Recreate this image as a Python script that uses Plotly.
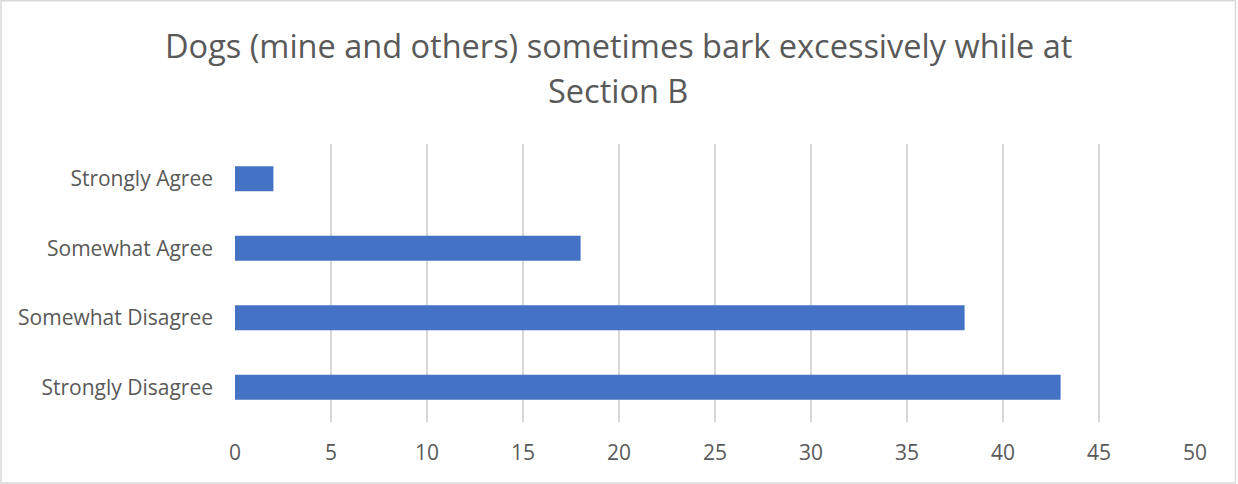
import plotly.graph_objects as go

categories = ["Strongly Agree", "Somewhat Agree", "Somewhat Disagree", "Strongly Disagree"]
values = [2, 18, 38, 43]
x_ticks = [0, 5, 10, 15, 20, 25, 30, 35, 40, 45, 50]
title_lines = ["Dogs (mine and others) sometimes bark excessively while at", "Section B"]

W, H = 1238, 484
ml, mr, mt, mb = 235, 43, 144, 62
pw, ph = W - ml - mr, H - mt - mb


def py(p):
    return (H - mb - p) / ph


def px(p):
    return (p - ml) / pw


fig = go.Figure(go.Bar(
    x=values, y=categories, orientation="h",
    marker=dict(color="#4472C4", line=dict(width=0)),
))

annotations = []
for line, ypix in zip(title_lines, [45, 90]):
    annotations.append(dict(
        text=line, xref="paper", yref="paper", x=px(W / 2 - 1), y=py(ypix),
        xanchor="center", yanchor="middle", showarrow=False,
        font=dict(family="Open Sans", size=32.5, color="#595959"),
    ))

fig.update_layout(
    width=W, height=H,
    margin=dict(l=ml, r=mr, t=mt, b=mb),
    paper_bgcolor="white", plot_bgcolor="white",
    bargap=0.64,
    showlegend=False,
    font=dict(family="Open Sans", color="#595959", size=21),
    annotations=annotations,
    xaxis=dict(
        range=[0, 50], tickvals=x_ticks, showgrid=True, gridcolor="#D9D9D9", gridwidth=1.5,
        zeroline=False, showline=False, ticks="", ticklabelstandoff=16,
        tickfont=dict(size=21, color="#595959"),
    ),
    yaxis=dict(
        autorange="reversed", showgrid=False, zeroline=False, showline=False, ticks="",
        ticklabelstandoff=21, tickfont=dict(size=21, color="#595959"),
    ),
    shapes=[dict(
        type="rect", xref="paper", yref="paper",
        x0=px(1), x1=px(1235.5), y0=py(483), y1=py(0.8),
        line=dict(color="#D9D9D9", width=1.5), fillcolor="rgba(0,0,0,0)", layer="below",
    )],
)

fig.write_html("out.html", config={"displayModeBar": False},
               post_script="document.body.style.margin='0';")
